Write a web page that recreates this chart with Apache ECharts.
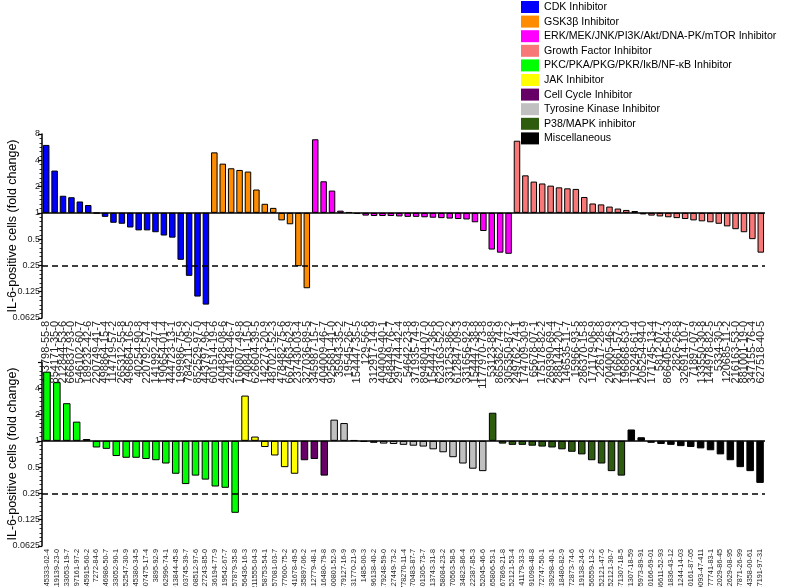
<!DOCTYPE html>
<html><head><meta charset="utf-8">
<script src="https://cdn.jsdelivr.net/npm/echarts@6/dist/echarts.min.js"></script>
<style>html,body{margin:0;padding:0;background:#fff}#c{width:785px;height:587px}</style>
</head><body><div id="c"></div><script>
const groupNames = ['CDK Inhibitor','GSK3\u03b2 Inhibitor','ERK/MEK/JNK/PI3K/Akt/DNA-PK/mTOR Inhibitor','Growth Factor Inhibitor','PKC/PKA/PKG/PKR/I\u03baB/NF-\u03baB Inhibitor','JAK Inhibitor','Cell Cycle Inhibitor','Tyrosine Kinase Inhibitor','P38/MAPK inhibitor','Miscellaneous'];
const groupColors = ['#0000ff','#ff8c00','#ff00ff','#f87878','#00ff00','#ffff00','#660066','#c0c0c0','#2e5c0e','#000000'];
const yTickValues = [0.0625,0.125,0.25,0.5,1,2,4,8];
const threshold = 0.25;

const topLabels = ['443798-55-8','854171-35-0','212844-53-6','666837-93-0','546102-60-7','189232-42-6','220749-41-7','498864-15-4','114719-57-2','265312-55-8','496864-16-5','40254-90-8','220792-57-4','141992-47-4','190654-01-4','444723-13-1','199986-75-9','784211-09-2','852529-97-0','443797-96-4',
'601514-19-6','404828-08-6','244148-46-7','160807-49-8','740841-15-0','626604-39-5','142273-20-9','487021-52-3','478482-75-6','667463-62-9','237430-03-4','327036-89-5',
'345987-15-7','404009-46-7','925681-41-0','35943-35-2','19545-26-7','154447-35-5','129-56-6','312917-14-9','404009-40-1','648449-76-7','297744-42-4','54642-23-8','371935-74-9','894804-07-0','154447-36-6','623163-52-0','331253-86-2','612847-09-3','331656-92-9','154447-38-8','1177970-73-8','53123-88-9','865362-74-9','305350-87-2',
'249762-74-1','174709-30-9','65678-07-1','175178-82-2','269390-69-4','288144-20-7','146535-11-7','15966-93-5','286370-15-8','171179-06-9','22617-28-8','204005-46-9','216661-57-3','196868-63-0','179248-61-4','205254-94-0','171745-13-4','5812-07-7','866405-64-3','2826-26-8','326914-10-7','71897-07-9','133550-30-8','144978-82-5','5334-30-5','120685-11-2','216163-53-0','881001-19-0','347155-76-4','627518-40-5'];
const topValues = [6.0,3.05,1.57,1.51,1.35,1.23,0.99,0.9,0.77,0.75,0.68,0.63,0.63,0.60,0.55,0.52,0.29,0.19,0.11,0.089,
4.93,3.66,3.24,3.10,2.97,1.85,1.27,1.14,0.82,0.74,0.245,0.137,
6.96,2.30,1.80,1.06,1.02,0.97,0.93,0.92,0.92,0.92,0.91,0.9,0.9,0.89,0.88,0.87,0.86,0.85,0.84,0.78,0.62,0.38,0.35,0.34,
6.7,2.69,2.28,2.17,2.05,1.96,1.91,1.88,1.52,1.28,1.25,1.18,1.12,1.08,1.05,0.96,0.93,0.91,0.89,0.87,0.85,0.82,0.8,0.78,0.75,0.7,0.65,0.6,0.5,0.35];
const topGroupRuns = [[0,20],[1,12],[2,24],[3,30]];

const bottomLabels = ['145333-02-4','119139-23-0','133053-19-7','97161-97-2','145915-60-2','7272-84-6','146986-50-7','133052-90-1','852547-30-9','545380-34-5','507475-17-4','3895-92-9','62996-74-1','913844-45-8','103745-39-7','608512-97-6','127243-85-0','136194-77-9','19542-67-7','257879-35-8',
'856436-16-3','211555-04-3','58753-54-1','457081-03-7','477600-75-2','941678-49-5',
'135897-06-2','212779-48-1','516480-79-8',
'300801-52-9','879127-16-9','331770-21-9','1485-00-3','896138-40-2','179248-59-0','227449-73-2','778270-11-4','870483-87-7','301305-73-7','213743-31-8','658084-23-2','70563-58-5','34823-86-4','622387-85-3','852045-46-6',
'165806-53-1','167869-21-8','152121-53-4','41179-33-3','591098-48-8','172747-50-1','339298-40-1','318480-82-9','72873-74-6','219138-24-6','356559-13-2','152121-47-6','152121-30-7','871307-18-5',
'71307-18-59','05973-89-91','20166-69-01','86611-52-93','01836-43-12','21244-14-03','30161-87-05','09093-47-411','77741-83-1','52029-86-45','22629-08-95','87871-26-99','34358-00-61','27191-97-31'];
const bottomValues = [6.2,4.7,2.7,1.66,1.05,0.84,0.81,0.67,0.64,0.64,0.62,0.6,0.55,0.42,0.32,0.4,0.36,0.3,0.29,0.15,
3.3,1.12,0.85,0.68,0.5,0.42,
0.6,0.62,0.4,
1.75,1.6,1.02,0.97,0.95,0.93,0.92,0.9,0.88,0.86,0.8,0.74,0.65,0.55,0.48,0.45,
2.1,0.93,0.9,0.9,0.88,0.86,0.84,0.8,0.75,0.7,0.6,0.55,0.45,0.4,
1.35,1.1,0.95,0.92,0.9,0.87,0.85,0.82,0.78,0.7,0.6,0.5,0.45,0.33];
const bottomGroupRuns = [[4,20],[5,6],[6,3],[7,16],[8,14],[9,14]];

const FONT = '"Liberation Sans", Arial, sans-serif';
const log2 = v => Math.log2(v);

function groupIndexList(runs){const out=[];runs.forEach(([g,n])=>{for(let i=0;i<n;i++)out.push(g);});return out;}

function panelSeries(values, runs, axisIdx, barW){
  const gl = groupIndexList(runs);
  const used = [...new Set(gl)];
  return used.map((g, k) => ({
    type:'bar', name: groupNames[g], xAxisIndex: axisIdx, yAxisIndex: axisIdx,
    barWidth: barW, barGap:'-100%',
    itemStyle:{color: groupColors[g], borderColor:'#000', borderWidth:1},
    data: values.map((v,i)=> gl[i]===g ? log2(v) : '-'),
    markLine: k===0 ? {silent:true, symbol:'none', label:{show:false},
      data:[{yAxis:0, lineStyle:{color:'#000', width:1.5, type:'solid'}},
            {yAxis:log2(threshold), lineStyle:{color:'#000', width:1.6, type:[6,4]}}]} : undefined
  }));
}

function xAxisFor(idx, labels, fs){
  return {type:'category', gridIndex: idx, data: labels, boundaryGap:true,
    axisLine:{show:false}, axisTick:{show:false},
    axisLabel:{rotate:90, interval:0, fontSize:fs, color:'#222', margin:3, fontFamily:FONT}};
}
function yAxisFor(idx, showTop){
  return {type:'value', gridIndex: idx, min: log2(yTickValues[0]), max: log2(yTickValues[yTickValues.length-1]), interval:1,
    name:'IL-6-positive cells (fold change)', nameLocation:'middle', nameGap:23, nameMoveOverlap:false,
    nameTextStyle:{fontSize:12.5, color:'#000', fontFamily:FONT},
    axisLine:{show:true, lineStyle:{color:'#000', width:1.5}},
    axisTick:{show:true, length:4, lineStyle:{color:'#000', width:1.2}},
    minorTick:{show:true, splitNumber:6, length:2.5, lineStyle:{color:'#000', width:0.8}},
    splitLine:{show:false},
    axisLabel:{fontSize:9, color:'#222', margin:2, fontFamily:FONT,
      formatter: v => { const p = Math.pow(2, v); if(!showTop && p===8) return ''; return String(+p.toPrecision(6)); }}};
}

const chart = echarts.init(document.getElementById('c'), null, {renderer:'canvas'});
chart.setOption({
  animation:false,
  backgroundColor:'#fff',
  legend:{orient:'vertical', left:521, top:1, itemWidth:18, itemHeight:12, itemGap:2.6, padding:0,
    selectedMode:false, icon:'rect', itemStyle:{borderWidth:0},
    textStyle:{fontSize:10.6, color:'#000', fontFamily:FONT}, data: groupNames},
  grid:[{left:42, right:20, top:134, height:184, outerBoundsMode:'none', containLabel:false},
        {left:42, right:20, top:362, height:184, outerBoundsMode:'none', containLabel:false}],
  xAxis:[xAxisFor(0, topLabels, 11), xAxisFor(1, bottomLabels, 7.3)],
  yAxis:[yAxisFor(0, true), yAxisFor(1, false)],
  series:[...panelSeries(topValues, topGroupRuns, 0, 6.5), ...panelSeries(bottomValues, bottomGroupRuns, 1, 7.5)]
});
</script></body></html>
